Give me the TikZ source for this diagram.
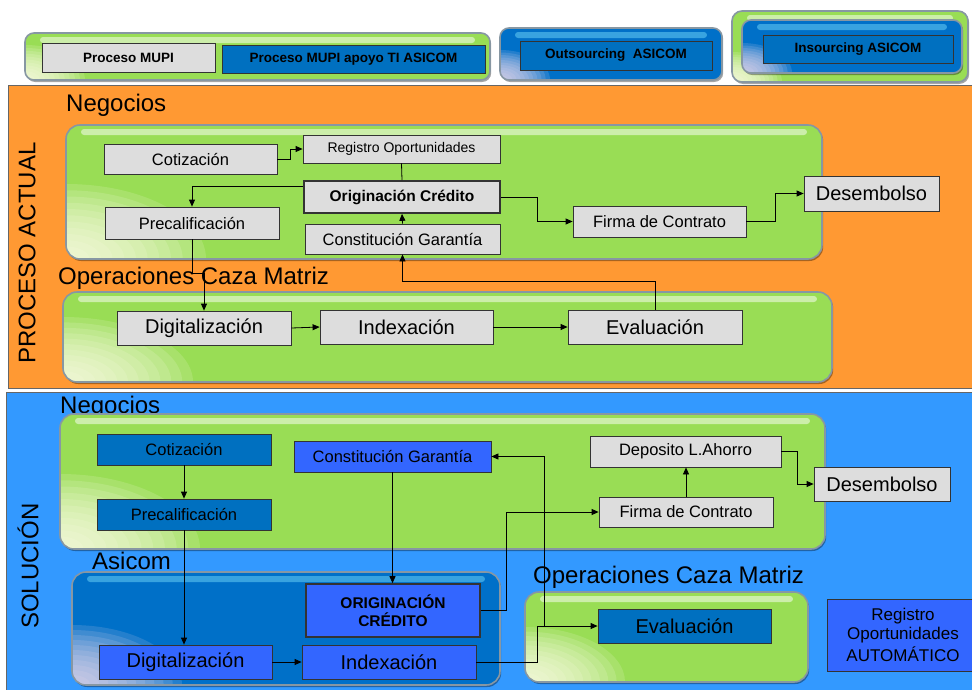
\documentclass[tikz,border=0pt]{standalone}
\usepackage{fontspec}
\setmainfont{Liberation Sans}
\usetikzlibrary{arrows.meta,shadows}
\definecolor{bgorange}{HTML}{FF9933}
\definecolor{bgblue}{HTML}{3399FF}
\definecolor{pgreen}{HTML}{99DD55}
\definecolor{pblue}{HTML}{0070C8}
\definecolor{boxgray}{HTML}{DDDDDD}
\definecolor{boxdark}{HTML}{0070C0}
\definecolor{boxbright}{HTML}{3366FF}
\definecolor{edgegray}{HTML}{8797A3}
\newcommand\fsz[1]{\fontsize{#1}{#1}\selectfont}
% size of the soft light spot in the lower left corner of a panel
\newcommand\glowx{140}
\newcommand\glowy{75}
\newcommand\glowspot[1]{%
  \foreach \k in {12,11,...,1}
    \fill[#1, opacity=.15] (path picture bounding box.south west)
      ellipse [x radius={\k*\glowx/12*1pt}, y radius={\k*\glowy/12*1pt}];}
\tikzset{
  glow/.code 2 args={\renewcommand\glowx{#1}\renewcommand\glowy{#2}},
  wh/.style 2 args={minimum width=#1pt, minimum height=#2pt},
  panelbase/.style={draw=edgegray, line width=1.6pt, rounded corners=14pt, inner sep=0pt,
    drop shadow={shadow xshift=1.2pt, shadow yshift=-2pt, fill=black, opacity=.35}},
  gpanel/.style={panelbase, fill=pgreen,
    path picture={
      \glowspot{white!92!yellow}
      \fill[white, opacity=.5, rounded corners=3pt]
        ([xshift=15pt,yshift=-4pt]path picture bounding box.north west) rectangle
        ([xshift=-15pt,yshift=-10pt]path picture bounding box.north east);
    }},
  bpanel/.style={panelbase, fill=pblue,
    path picture={
      \glowspot{white!85!violet}
      \fill[cyan!60!white, opacity=.55, rounded corners=3pt]
        ([xshift=15pt,yshift=-4pt]path picture bounding box.north west) rectangle
        ([xshift=-15pt,yshift=-10pt]path picture bounding box.north east);
    }},
  box/.style={draw=black!80, line width=0.8pt, inner sep=0pt, align=center, text=black},
  graybox/.style={box, fill=boxgray},
  darkbox/.style={box, fill=boxdark},
  brightbox/.style={box, fill=boxbright},
  lbl/.style={inner sep=0pt, text=black, font=\fsz{24}},
  conn/.style={draw=black, line width=0.8pt, -{Triangle[length=7pt,width=6pt]}},
  link/.style={draw=black, line width=0.8pt},
}
\begin{document}
\begin{tikzpicture}[x=1pt,y=-1pt]
\useasboundingbox (0,0) rectangle (972,689);
\fill[white] (0,0) rectangle (972,689);

% ---------- legend ----------
\node[gpanel, rounded corners=9pt, glow={60}{35}, wh={465}{47}] (legA) at (257.5,56.5) {};
\node[graybox, wh={173}{29}, font=\fsz{13.5}\bfseries] (kMupi) at (128.5,57.5) {Proceso MUPI};
\node[darkbox, wh={263}{28}, font=\fsz{13.5}\bfseries] (kMupiTI) at (353.5,59) {Proceso MUPI apoyo TI ASICOM};

\node[bpanel, rounded corners=9pt, glow={50}{30}, wh={222}{52}] (legB) at (611,54) {};
\node[darkbox, wh={192}{29}, font=\fsz{13.5}\bfseries] (kOut) at (616,55.5) {Outsourcing\ \ ASICOM};

\node[gpanel, rounded corners=10pt, glow={50}{30}, wh={236}{71}] (legC) at (850,46.5) {};
\node[bpanel, rounded corners=9pt, glow={50}{30}, wh={220}{53}] (legCin) at (852,46.5) {};
\node[darkbox, wh={190}{28}, font=\fsz{13.5}\bfseries] (kIn) at (858,49) {Insourcing ASICOM};

% ---------- current process ----------
\fill[bgorange, draw=black!60, line width=0.8pt] (8,85) rectangle (990,388);
\node[lbl, rotate=90] (labPA) at (27,253) {PROCESO ACTUAL};

\node[lbl, anchor=base west] (labNegA) at (66,111) {Negocios};
\node[gpanel, wh={756}{134}] (negA) at (444,192) {};
\node[lbl, anchor=base west] (labOpA) at (58,284) {Operaciones Caza Matriz};
\node[gpanel, glow={130}{65}, wh={769}{90}] (opA) at (447.5,337) {};

\node[graybox, wh={173}{30}, font=\fsz{16.5}] (cotA) at (190.5,159) {Cotización};
\node[graybox, wh={197}{28}, font=\fsz{14}] (regA) at (401.5,149) {Registro Oportunidades};
\node[graybox, wh={196}{32}, line width=1.6pt, font=\fsz{15.5}\bfseries] (origA) at (402,197) {Originación Crédito};
\node[graybox, wh={174}{32}, font=\fsz{16.5}] (precA) at (192,223) {Precalificación};
\node[graybox, wh={195}{30}, font=\fsz{16.5}] (constA) at (402.5,239) {Constitución Garantía};
\node[graybox, wh={173}{31}, font=\fsz{16.5}] (firmaA) at (659.5,221.5) {Firma de Contrato};
\node[graybox, wh={135}{35}, font=\fsz{20}] (desA) at (871.5,193.5) {Desembolso};
\node[graybox, wh={174}{34}, font=\fsz{20}] (digA) at (204,328) {Digitalización};
\node[graybox, wh={173}{34}, font=\fsz{20}] (idxA) at (406.5,327) {Indexación};
\node[graybox, wh={174}{34}, font=\fsz{20}] (evalA) at (655,327) {Evaluación};

\draw[conn] (cotA.east) -- ++(13,0) |- (regA.west);
\draw[link] (regA.south) -- (origA.north);
\draw[conn] ([yshift=11pt]origA.west) -| (precA.north);
\draw[conn] (precA.south) -- ++(0,34) -| (digA.north);
\draw[conn] (origA.east) -- ++(37,0) |- (firmaA.west);
\draw[conn] (firmaA.east) -- ++(29,0) |- (desA.west);
\draw[conn] (evalA.north) -- ++(0,-28) -| (constA.south);
\draw[conn] (constA.north) -- (origA.south);
\draw[conn] (digA.east) -- (idxA.west);
\draw[conn] (idxA.east) -- (evalA.west);

% ---------- solution ----------
\fill[bgblue, draw=black!60, line width=0.8pt] (6,392) rectangle (990,700);
\node[lbl, rotate=90] (labSol) at (28,566) {SOLUCIÓN};

\node[lbl, anchor=base west] (labNegB) at (60,413) {Negocios};
\node[gpanel, wh={765}{135}] (negB) at (442.5,481.5) {};
\node[lbl, anchor=base west] (labAsi) at (92,569) {Asicom};
\node[bpanel, glow={110}{60}, wh={428}{113}] (asiB) at (286,628.5) {};
\node[lbl, anchor=base west] (labOpB) at (533,583) {Operaciones Caza Matriz};
\node[gpanel, glow={100}{55}, wh={283}{90}] (opB) at (666.5,637) {};

\node[darkbox, wh={174}{31}, font=\fsz{16.5}] (cotB) at (184,449.5) {Cotización};
\node[darkbox, wh={174}{31}, font=\fsz{16.5}] (precB) at (184,514.5) {Precalificación};
\node[brightbox, wh={197}{31}, font=\fsz{16.5}] (constB) at (392.5,456.5) {Constitución Garantía};
\node[graybox, wh={191}{31}, font=\fsz{16.5}] (depB) at (685.5,451.5) {Deposito L.Ahorro};
\node[graybox, wh={174}{30}, font=\fsz{16.5}] (firmaB) at (686,512) {Firma de Contrato};
\node[graybox, wh={136}{34}, font=\fsz{20}] (desB) at (882,484) {Desembolso};
\node[brightbox, wh={174}{53}, line width=1.6pt, font=\fsz{15.5}\bfseries] (origB) at (393,610.5) {ORIGINACIÓN\\[2pt]CRÉDITO};
\node[brightbox, wh={173}{34}, font=\fsz{20}] (digB) at (185.5,662) {Digitalización};
\node[brightbox, wh={174}{34}, font=\fsz{20}] (idxB) at (389,662) {Indexación};
\node[darkbox, wh={173}{34}, font=\fsz{20}] (evalB) at (684.5,626) {Evaluación};
\node[brightbox, wh={152}{72}, font=\fsz{17}] (regB) at (903,635)
  {Registro\\[2.5pt]Oportunidades\\[2.5pt]AUTOMÁTICO};

\coordinate (jEval) at (544,626);
\draw[conn] (cotB.south) -- (precB.north);
\draw[conn] (precB.south) -- (precB.south |- digB.north);
\draw[conn] (constB.south) -- (constB.south |- origB.north);
\draw[conn] (origB.east) -- ++(26,0) |- (firmaB.west);
\draw[conn] (digB.east) -- (idxB.west);
\draw[conn] (idxB.east) -- ++(61,0) |- (evalB.west);
\draw[conn] (jEval) |- (constB.east);
\draw[conn] (firmaB.north) -- (firmaB.north |- depB.south);
\draw[conn] (depB.east) -- ++(16,0) |- (desB.west);
\end{tikzpicture}
\end{document}
